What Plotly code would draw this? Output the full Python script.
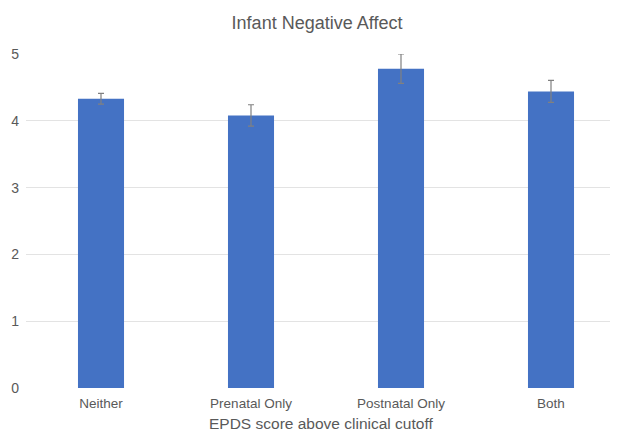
import plotly.graph_objects as go

categories = ["Neither", "Prenatal Only", "Postnatal Only", "Both"]
means = [4.33, 4.08, 4.78, 4.44]
errors = [0.08, 0.16, 0.22, 0.165]
y_ticks = [0, 1, 2, 3, 4, 5]

TEXT = "#595959"
FONT = "Liberation Sans, Arial, sans-serif"

fig = go.Figure(
    go.Bar(
        x=categories,
        y=means,
        width=0.307,
        marker=dict(color="#4472C4", line=dict(width=0)),
        error_y=dict(type="data", array=errors, visible=True,
                     color="#808080", thickness=1.2, width=3),
        cliponaxis=False,
    )
)

fig.add_annotation(
    text="EPDS score above clinical cutoff",
    xref="paper", yref="paper", x=0.492, y=-0.105,
    xanchor="center", yanchor="middle", showarrow=False,
    font=dict(family=FONT, size=15.5, color=TEXT),
)

fig.update_layout(
    width=618,
    height=433,
    margin=dict(l=18, r=0, t=46, b=53),
    paper_bgcolor="white",
    plot_bgcolor="white",
    showlegend=False,
    font=dict(family=FONT, size=13.5, color=TEXT),
    title=dict(text="Infant Negative Affect", x=0.5, xref="container",
               xanchor="center", y=1 - 15 / 433, yanchor="middle",
               font=dict(family=FONT, size=18, color=TEXT)),
    xaxis=dict(
        range=[-0.5, 3.5],
        showgrid=False,
        showline=False,
        zeroline=False,
        ticks="",
        tickfont=dict(size=13.5, color=TEXT),
        ticklabelstandoff=5,
    ),
    yaxis=dict(
        range=[0, 5],
        tickvals=y_ticks,
        showgrid=True,
        gridcolor="#e3e3e3",
        gridwidth=1,
        zeroline=False,
        showline=False,
        ticks="",
        tickfont=dict(size=14, color=TEXT),
        ticklabelstandoff=6,
    ),
)

fig.write_html("out.html")
